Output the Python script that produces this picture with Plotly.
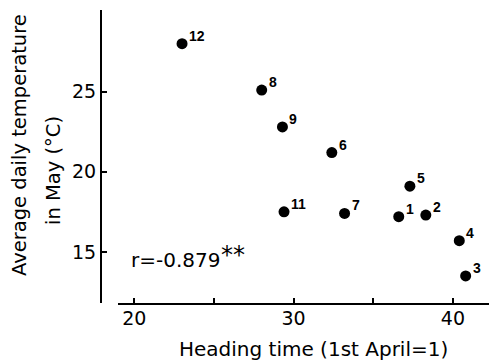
import plotly.graph_objects as go

# Data
ids = ["1", "2", "3", "4", "5", "6", "7", "8", "9", "11", "12"]
heading_time = [36.6, 38.3, 40.8, 40.4, 37.3, 32.4, 33.2, 28.0, 29.3, 29.4, 23.0]
may_temp = [17.2, 17.3, 13.5, 15.7, 19.1, 21.2, 17.4, 25.1, 22.8, 17.5, 28.0]

x_tickvals = [20, 25, 30, 35, 40]
x_ticktext = ["20", "", "30", "", "40"]
y_tickvals = [15, 20, 25]
y_ticktext = ["15", "20", "25"]

W, H = 497, 363
OFF = 8  # page body margin offset
FONT = "DejaVu Sans"


def px(v):
    return (v - OFF) / W


def py(v):
    return 1 - (v - OFF) / H


fig = go.Figure()
fig.add_trace(go.Scatter(
    x=heading_time, y=may_temp, mode="markers",
    marker=dict(size=11, color="black"),
    hoverinfo="skip", showlegend=False,
))

annotations = []
for lab, xv, yv in zip(ids, heading_time, may_temp):
    annotations.append(dict(
        x=xv, y=yv, xref="x", yref="y", text="<b>" + lab + "</b>",
        showarrow=False, xanchor="left", yanchor="middle",
        xshift=5, yshift=8,
        font=dict(family="Liberation Sans Narrow, Liberation Sans", size=14, color="black"),
    ))

# y-axis title lines
annotations.append(dict(
    x=px(20), y=py(145), xref="paper", yref="paper",
    text="Average daily temperature", textangle=-90, showarrow=False,
    xanchor="center", yanchor="middle",
    font=dict(family=FONT, size=19.5, color="black"),
))
annotations.append(dict(
    x=px(53), y=py(171), xref="paper", yref="paper",
    text="in May (°C)", textangle=-90, showarrow=False,
    xanchor="center", yanchor="middle",
    font=dict(family=FONT, size=19.5, color="black"),
))
# x-axis title
annotations.append(dict(
    x=px(313), y=py(349), xref="paper", yref="paper",
    text="Heading time (1st April=1)", showarrow=False,
    xanchor="center", yanchor="middle",
    font=dict(family=FONT, size=20, color="black"),
))
# correlation note
annotations.append(dict(
    x=px(129), y=py(260), xref="paper", yref="paper",
    text="r=-0.879", showarrow=False,
    xanchor="left", yanchor="middle",
    font=dict(family=FONT, size=20, color="black"),
))
annotations.append(dict(
    x=px(219), y=py(255), xref="paper", yref="paper",
    text="**", showarrow=False,
    xanchor="left", yanchor="middle",
    font=dict(family=FONT, size=24, color="black"),
))

fig.update_layout(
    width=W, height=H,
    margin=dict(l=0, r=0, t=0, b=0),
    paper_bgcolor="white", plot_bgcolor="white",
    font=dict(family=FONT, size=19, color="black"),
    annotations=annotations,
    xaxis=dict(
        domain=[px(118), px(498)],
        range=[18.98, 42.83],
        tickvals=x_tickvals, ticktext=x_ticktext,
        ticks="inside", ticklen=5, tickwidth=1.5, tickcolor="black",
        showline=True, linecolor="black", linewidth=2,
        showgrid=False, zeroline=False,
        tickfont=dict(size=19),
        ticklabelstandoff=-3,
    ),
    yaxis=dict(
        domain=[py(303), py(10)],
        range=[11.81, 30.1],
        anchor="free", position=px(101),
        tickvals=y_tickvals, ticktext=y_ticktext,
        ticks="inside", ticklen=5, tickwidth=1.5, tickcolor="black",
        showline=True, linecolor="black", linewidth=2,
        showgrid=False, zeroline=False,
        tickfont=dict(size=19),
    ),
)

fig.write_html("out.html")
